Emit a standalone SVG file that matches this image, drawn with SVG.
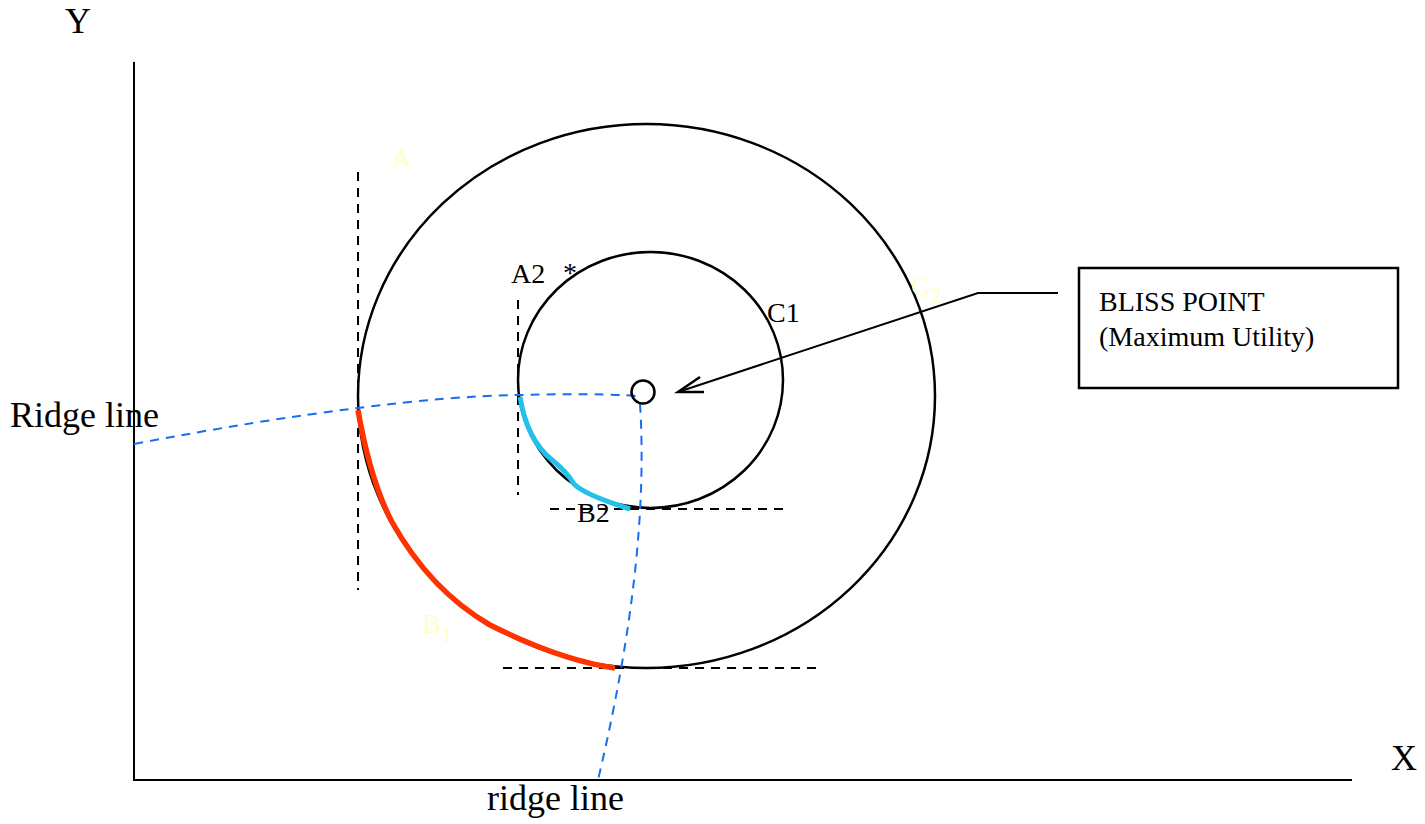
<svg xmlns="http://www.w3.org/2000/svg" width="1425" height="824" viewBox="0 0 1425 824">
<style>
text{font-family:"Liberation Serif","Times New Roman",serif;font-size:28px;fill:#000}
.big{font-size:36px}
.pale{fill:#ffffc8}
.ax{stroke:#000;stroke-width:2;fill:none}
.dash{stroke:#000;stroke-width:2;stroke-dasharray:9,7;fill:none}
.ridge{stroke:#1a6cf0;stroke-width:2;stroke-dasharray:9,7;fill:none}
.circ{stroke:#000;stroke-width:2.5;fill:none}
</style>
<rect width="1425" height="824" fill="#fff"/>
<g id="axes">
<line class="ax" x1="134" y1="62" x2="134" y2="781"/>
<line class="ax" x1="133" y1="780" x2="1352" y2="780"/>
<text class="big" x="65" y="33">Y</text>
<text class="big" x="1391" y="770">X</text>
</g>
<g id="C2">
<ellipse class="circ" cx="646.5" cy="396" rx="288.5" ry="272"/>
<text class="pale" x="911" y="295" font-size="34">C<tspan font-size="24" dy="8">2</tspan></text>
</g>
<g id="C1">
<ellipse class="circ" cx="650.5" cy="380" rx="132.5" ry="128"/>
<text x="767" y="322">C1</text>
</g>
<g id="guides">
<line class="dash" x1="358" y1="172" x2="358" y2="590"/>
<line class="dash" x1="518" y1="300" x2="518" y2="495"/>
<line class="dash" x1="550" y1="509" x2="790" y2="509"/>
<line class="dash" x1="503" y1="668" x2="822" y2="668"/>
</g>
<g id="connectors">
<path class="ridge" d="M134,444 Q260,420 358,408 Q450,396 520,395 Q600,393 637,396"/>
<path class="ridge" d="M640,404 Q650,560 598,780"/>
<path d="M358,410 Q370,480 392,522 Q430,590 490,625 Q560,660 615,668" stroke="#ff3300" stroke-width="5.5" fill="none"/>
<path d="M520,397 Q527,440 552,460 Q567,472 574,484 Q585,495 630,509" stroke="#22c0ea" stroke-width="5" fill="none"/>
<polyline points="1058,293 978,293 678,392" fill="none" stroke="#000" stroke-width="2"/>
<path d="M700,377 L678,392 L704,392" fill="none" stroke="#000" stroke-width="2.5"/>
</g>
<g id="bliss">
<circle cx="643" cy="392" r="11.5" fill="none" stroke="#000" stroke-width="2.5"/>
</g>
<g id="box">
<rect x="1079" y="268" width="319" height="120" fill="#fff" stroke="#000" stroke-width="2.5"/>
<text x="1099" y="311">BLISS POINT</text>
<text x="1099" y="346">(Maximum Utility)</text>
</g>
<g id="labels">
<text class="pale" x="391" y="167" font-size="35">A</text>
<text x="511" y="283">A2</text>
<text x="563" y="282" font-size="24">*</text>
<text x="577" y="522">B2</text>
<text class="pale" x="422" y="633" font-size="32">B<tspan font-size="24" dy="9">1</tspan></text>
<text class="big" x="10" y="427">Ridge line</text>
<text class="big" x="487" y="810">ridge line</text>
</g>
</svg>
